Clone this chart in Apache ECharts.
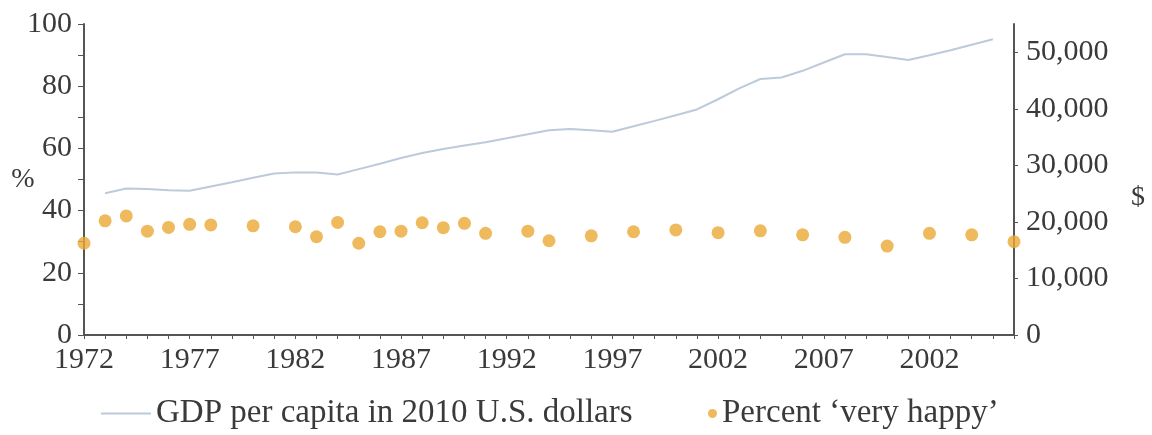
<!DOCTYPE html>
<html>
<head>
<meta charset="utf-8">
<script src="https://cdn.jsdelivr.net/npm/echarts@6/dist/echarts.min.js"></script>
<style>
  html, body { margin: 0; padding: 0; background: #fff; }
  #main { width: 1152px; height: 435px; }
</style>
</head>
<body>
<div id="main"></div>
<script>
// x axis: one category per year, labels every 5 years (as printed in the source)
var years = [];
for (var y = 1972; y <= 2016; y++) years.push(String(y));
var yearLabels = ['1972', '1977', '1982', '1987', '1992', '1997', '2002', '2007', '2002'];

// GDP per capita, 2010 US$
var gdpYears = [1973, 1974, 1975, 1976, 1977, 1978, 1979, 1980, 1981, 1982, 1983, 1984, 1985, 1986,
  1987, 1988, 1989, 1990, 1991, 1992, 1993, 1994, 1995, 1996, 1997, 1998, 1999, 2000, 2001, 2002,
  2003, 2004, 2005, 2006, 2007, 2008, 2009, 2010, 2011, 2012, 2013, 2014, 2015];
var gdpValues = [25070, 25900, 25820, 25600, 25500, 26260, 27020, 27800, 28560, 28760, 28740, 28370, 29330, 30270,
  31300, 32200, 32890, 33500, 34100, 34790, 35500, 36200, 36420, 36190, 35960, 36910, 37870, 38870, 39890, 41690,
  43620, 45270, 45550, 46720, 48190, 49660, 49660, 49150, 48650, 49470, 50350, 51330, 52300];

// Percent 'very happy'
var happyYears = [1972, 1973, 1974, 1975, 1976, 1977, 1978, 1980, 1982, 1983, 1984, 1985, 1986, 1987,
  1988, 1989, 1990, 1991, 1993, 1994, 1996, 1998, 2000, 2002, 2004, 2006, 2008, 2010, 2012, 2014, 2016];
var happyValues = [29.5, 36.7, 38.3, 33.4, 34.6, 35.6, 35.4, 35.1, 34.8, 31.6, 36.2, 29.5, 33.2, 33.4,
  36.1, 34.5, 35.9, 32.7, 33.4, 30.3, 31.9, 33.2, 33.8, 32.9, 33.5, 32.2, 31.4, 28.6, 32.7, 32.2, 30.0];

var serif = '"Liberation Serif", "DejaVu Serif", serif';
var textColor = '#3a3a3a';
var axisColor = '#555';
var lineColor = '#BCCADA';
var dotColor = '#EBA735';

var myChart = echarts.init(document.getElementById('main'));
var option = {
    animation: false,
    textStyle: { fontFamily: serif },
    grid: { left: 84, right: 138, top: 24, bottom: 100, containLabel: false, outerBoundsMode: 'none' },
    legend: [
        {
            data: [{ name: 'GDP per capita in 2010 U.S. dollars', icon: 'rect' }],
            left: 96, top: 392,
            itemWidth: 50, itemHeight: 2, itemGap: 6,
            itemStyle: { color: lineColor },
            textStyle: { fontFamily: serif, fontSize: 33, color: textColor }
        },
        {
            data: [{ name: "Percent \u2018very happy\u2019", icon: 'circle' }],
            left: 703, top: 392,
            itemWidth: 9, itemHeight: 9,
            textStyle: { fontFamily: serif, fontSize: 33, color: textColor }
        }
    ],
    xAxis: {
        type: 'category',
        data: years,
        boundaryGap: false,
        axisLine: { lineStyle: { color: axisColor, width: 2 } },
        axisTick: { interval: 0, length: 4, lineStyle: { color: axisColor } },
        axisLabel: {
            interval: 4,
            margin: 10,
            fontFamily: serif, fontSize: 30, color: textColor,
            formatter: function (value, index) {
                return index % 5 === 0 ? yearLabels[index / 5] : '';
            }
        },
        splitLine: { show: false }
    },
    yAxis: [
        {
            type: 'value',
            min: 0, max: 100, interval: 20,
            name: '%',
            nameLocation: 'middle',
            nameRotate: 0,
            nameMoveOverlap: false,
            nameGap: 61,
            nameTextStyle: { fontFamily: serif, fontSize: 28, color: textColor, align: 'center' },
            axisLine: { show: true, lineStyle: { color: axisColor, width: 2 } },
            axisTick: { show: true, length: 6, lineStyle: { color: axisColor } },
            minorTick: { show: true, splitNumber: 2, length: 6, lineStyle: { color: axisColor } },
            axisLabel: { margin: 12, fontFamily: serif, fontSize: 30, color: textColor },
            splitLine: { show: false }
        },
        {
            type: 'value',
            min: 0, max: 55000, interval: 10000,
            position: 'right',
            name: '$',
            nameLocation: 'middle',
            nameRotate: 0,
            nameMoveOverlap: false,
            nameGap: 124,
            nameTextStyle: { fontFamily: serif, fontSize: 28, color: textColor, align: 'center', verticalAlign: 'top', padding: [4, 0, 0, 0] },
            axisLine: { show: true, lineStyle: { color: axisColor, width: 2 } },
            axisTick: { show: true, length: 4, lineStyle: { color: axisColor } },
            axisLabel: {
                margin: 12, fontFamily: serif, fontSize: 30, color: textColor,
                showMaxLabel: false,
                formatter: function (v) { return v > 50000 ? '' : v.toLocaleString('en-US'); }
            },
            splitLine: { show: false }
        }
    ],
    series: [
        {
            name: 'GDP per capita in 2010 U.S. dollars',
            type: 'line',
            yAxisIndex: 1,
            symbol: 'none',
            lineStyle: { color: lineColor, width: 2 },
            itemStyle: { color: lineColor },
            data: gdpYears.map(function (y, i) { return [String(y), gdpValues[i]]; })
        },
        {
            name: "Percent \u2018very happy\u2019",
            type: 'scatter',
            yAxisIndex: 0,
            symbolSize: 13,
            itemStyle: { color: dotColor },
            data: happyYears.map(function (y, i) { return [String(y), happyValues[i]]; })
        }
    ]
};
myChart.setOption(option);
</script>
</body>
</html>
